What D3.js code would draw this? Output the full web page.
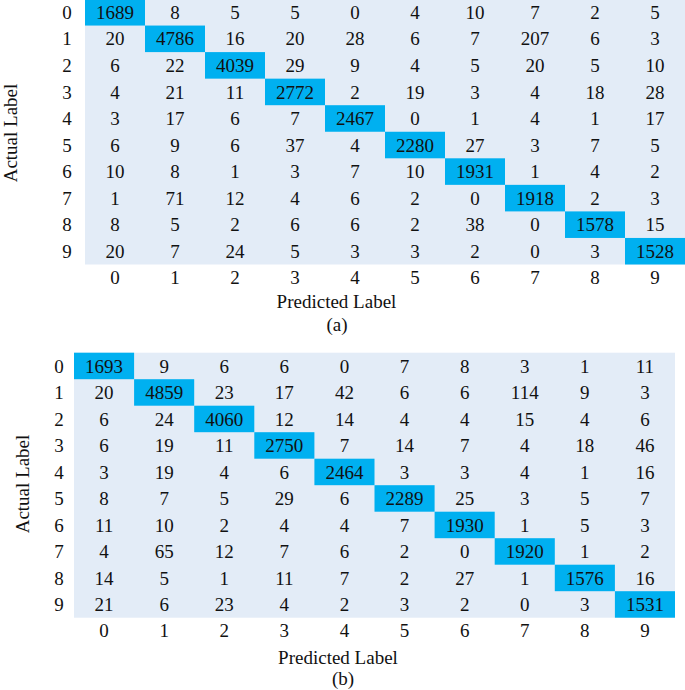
<!DOCTYPE html>
<html>
<head>
<meta charset="utf-8">
<script src="https://cdn.jsdelivr.net/npm/d3@7"></script>
<style>
  html, body { margin: 0; padding: 0; background: #fff; }
  svg { display: block; }
  text { font-family: "Liberation Serif", "Times New Roman", serif; fill: #111; }
</style>
</head>
<body>
<svg id="chart" width="685" height="690"></svg>
<script>
const labels = ["0","1","2","3","4","5","6","7","8","9"];

const matrixA = [
  [1689, 8, 5, 5, 0, 4, 10, 7, 2, 5],
  [20, 4786, 16, 20, 28, 6, 7, 207, 6, 3],
  [6, 22, 4039, 29, 9, 4, 5, 20, 5, 10],
  [4, 21, 11, 2772, 2, 19, 3, 4, 18, 28],
  [3, 17, 6, 7, 2467, 0, 1, 4, 1, 17],
  [6, 9, 6, 37, 4, 2280, 27, 3, 7, 5],
  [10, 8, 1, 3, 7, 10, 1931, 1, 4, 2],
  [1, 71, 12, 4, 6, 2, 0, 1918, 2, 3],
  [8, 5, 2, 6, 6, 2, 38, 0, 1578, 15],
  [20, 7, 24, 5, 3, 3, 2, 0, 3, 1528]
];

const matrixB = [
  [1693, 9, 6, 6, 0, 7, 8, 3, 1, 11],
  [20, 4859, 23, 17, 42, 6, 6, 114, 9, 3],
  [6, 24, 4060, 12, 14, 4, 4, 15, 4, 6],
  [6, 19, 11, 2750, 7, 14, 7, 4, 18, 46],
  [3, 19, 4, 6, 2464, 3, 3, 4, 1, 16],
  [8, 7, 5, 29, 6, 2289, 25, 3, 5, 7],
  [11, 10, 2, 4, 4, 7, 1930, 1, 5, 3],
  [4, 65, 12, 7, 6, 2, 0, 1920, 1, 2],
  [14, 5, 1, 11, 7, 2, 27, 1, 1576, 16],
  [21, 6, 23, 4, 2, 3, 2, 0, 3, 1531]
];

const xTitle = "Predicted Label";
const yTitle = "Actual Label";
const captions = ["(a)", "(b)"];

const BG = "#e3ecf7";
const DIAG = "#00b0f0";
const FS = 19;

const svg = d3.select("#chart");

function drawPanel(matrix, cfg) {
  const g = svg.append("g");
  const x = d3.scaleBand().domain(labels).range([cfg.left, cfg.right]).padding(0);
  const y = d3.scaleBand().domain(labels).range([cfg.top, cfg.bottom]).padding(0);

  g.append("rect")
    .attr("x", cfg.left).attr("y", cfg.top)
    .attr("width", cfg.right - cfg.left).attr("height", cfg.bottom - cfg.top)
    .attr("fill", BG);

  const cells = [];
  matrix.forEach((row, i) => row.forEach((v, j) => cells.push({r: labels[i], c: labels[j], v, diag: i === j})));

  g.selectAll("rect.diag").data(cells.filter(d => d.diag)).join("rect")
    .attr("class", "diag")
    .attr("x", d => x(d.c)).attr("y", d => y(d.r))
    .attr("width", x.bandwidth()).attr("height", y.bandwidth())
    .attr("fill", DIAG);

  g.selectAll("text.val").data(cells).join("text")
    .attr("class", "val")
    .attr("x", d => x(d.c) + x.bandwidth() / 2)
    .attr("y", d => y(d.r) + y.bandwidth() / 2)
    .attr("dy", "0.35em")
    .attr("text-anchor", "middle")
    .attr("font-size", FS)
    .text(d => d.v);

  g.selectAll("text.rl").data(labels).join("text")
    .attr("class", "rl")
    .attr("x", cfg.rowLabelX)
    .attr("y", d => y(d) + y.bandwidth() / 2)
    .attr("dy", "0.35em")
    .attr("text-anchor", "middle")
    .attr("font-size", FS)
    .text(d => d);

  g.selectAll("text.cl").data(labels).join("text")
    .attr("class", "cl")
    .attr("x", d => x(d) + x.bandwidth() / 2)
    .attr("y", cfg.colLabelY)
    .attr("dy", "0.35em")
    .attr("text-anchor", "middle")
    .attr("font-size", FS)
    .text(d => d);

  g.append("text")
    .attr("x", cfg.titleX).attr("y", cfg.titleY)
    .attr("dy", "0.35em").attr("text-anchor", "middle")
    .attr("font-size", FS).text(xTitle);

  g.append("text")
    .attr("x", cfg.capX).attr("y", cfg.capBaseline)
    .attr("text-anchor", "middle")
    .attr("font-size", FS).text(cfg.caption);

  g.append("text")
    .attr("transform", `translate(${cfg.yTitleX},${cfg.yTitleY}) rotate(-90)`)
    .attr("dy", "0.35em").attr("text-anchor", "middle")
    .attr("font-size", FS).text(yTitle);
}

drawPanel(matrixA, {
  left: 85, right: 685, top: -1, bottom: 264.5,
  rowLabelX: 67, colLabelY: 277.5,
  titleX: 336.5, titleY: 301, capX: 337, capBaseline: 331, caption: captions[0],
  yTitleX: 10, yTitleY: 133
});

drawPanel(matrixB, {
  left: 74, right: 675, top: 352.7, bottom: 617.7,
  rowLabelX: 59, colLabelY: 630,
  titleX: 338, titleY: 657, capX: 343, capBaseline: 684.5, caption: captions[1],
  yTitleX: 22, yTitleY: 484
});
</script>
</body>
</html>
